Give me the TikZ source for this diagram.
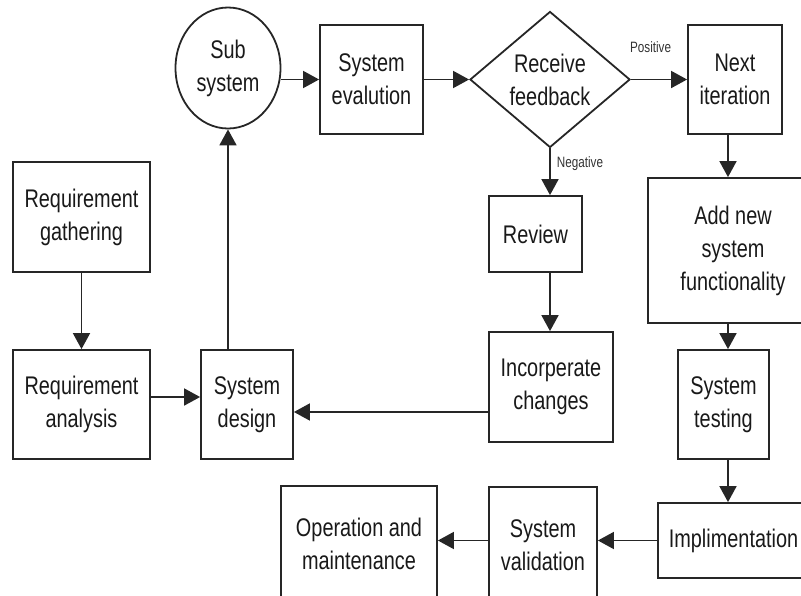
\documentclass[tikz,border=0pt]{standalone}
\usepackage{fontspec}
\setmainfont[FakeStretch=0.78]{Liberation Sans}
\usetikzlibrary{shapes.geometric,arrows.meta,positioning}

\begin{document}
\begin{tikzpicture}[x=1pt,y=-1pt,
  box/.style={draw=black!85,line width=1.8pt,align=center,inner sep=0pt,
    text=black!90,font=\fontsize{25.5}{33}\selectfont},
  arr/.style={draw=black!85,line width=1.8pt,-{Triangle[length=16pt,width=17pt]}},
  lbl/.style={inner sep=0pt,text=black!80,font=\fontsize{15}{18}\selectfont}]
  \useasboundingbox (0,0) rectangle (801,595);
  \clip (0,0) rectangle (801,595);
  \coordinate (col) at (728,0);
  \node[box,minimum width=137,minimum height=110] (gath) at (81.5,217) {Requirement\\gathering};
  \node[box,minimum width=137,minimum height=109] (anal) at (81.5,404.5) {Requirement\\analysis};
  \node[box,minimum width=92,minimum height=109] (design) at (247,404.5) {System\\design};
  \node[box,ellipse,minimum width=105,minimum height=121] (sub) at (228,68) {Sub\\system};
  \node[box,minimum width=103,minimum height=109] (eval) at (371.5,79.5) {System\\evalution};
  \node[box,diamond,minimum width=160,minimum height=136] (fb) at (550,79.5) {};
  \node[box,draw=none] (fbtext) at (fb) {Receive\\feedback};
  \node[box,minimum width=94,minimum height=109] (next) at (735,79.5) {Next\\iteration};
  \node[box,minimum width=93,minimum height=76] (review) at (535.5,234) {Review};
  \node[box,minimum width=124,minimum height=110] (inc) at (551,387) {Incorperate\\changes};
  \node[box,minimum width=170,minimum height=145] (add) at (733,250.5) {Add new\\system\\functionality};
  \node[box,minimum width=91,minimum height=109] (test) at (723.5,404.5) {System\\testing};
  \node[box,minimum width=151,minimum height=75] (impl) at (733.5,540.5) {Implimentation};
  \node[box,minimum width=108,minimum height=116] (valid) at (543,545) {System\\validation};
  \node[box,minimum width=156,minimum height=116] (op) at (359,544) {Operation and\\maintenance};

  \draw[arr] (gath.south) -- (anal.north);
  \draw[arr] ([yshift=7.5pt]anal.east) -- ([yshift=7.5pt]anal.east -| design.west);
  \draw[arr] (design.north -| sub.south) -- (sub.south);
  \draw[arr] (sub.east |- eval.west) -- (eval.west);
  \draw[arr] (eval.east) -- (fb.west);
  \draw[arr] (fb.east) -- node[lbl,above=26pt,pos=0.35] (pos) {Positive} (next.west);
  \draw[arr] (fb.south) -- node[lbl,right=6pt,pos=0.32] (neg) {Negative} (fb.south |- review.north);
  \draw[arr] (review.south -| fb.south) -- (inc.north -| fb.south);
  \draw[arr] ([yshift=-25pt]inc.west) -- ([yshift=-25pt]inc.west -| design.east);
  \draw[arr] (next.south -| col) -- (add.north -| col);
  \draw[arr] (add.south -| col) -- (test.north -| col);
  \draw[arr] (test.south -| col) -- (impl.north -| col);
  \draw[arr] (impl.west) -- (impl.west -| valid.east);
  \draw[arr] (valid.west |- impl.west) -- (op.east |- impl.west);
\end{tikzpicture}
\end{document}
